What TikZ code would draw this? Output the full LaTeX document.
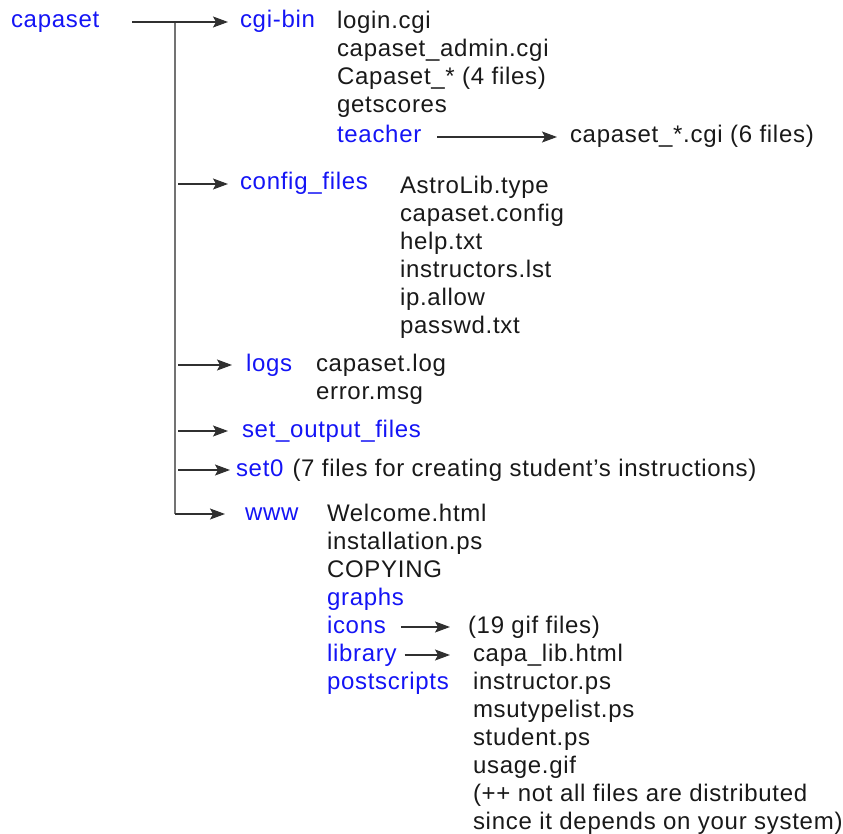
\documentclass[tikz,border=0pt]{standalone}
\usepackage{fontspec}
\setmainfont{Liberation Sans}[LetterSpace=3]
\usetikzlibrary{arrows.meta,positioning}
\definecolor{dirblue}{RGB}{20,20,245}
\definecolor{ink}{RGB}{25,25,25}

\begin{document}
\begin{tikzpicture}[x=1pt, y=-1pt,
        every node/.style={inner sep=0pt, outer sep=0pt, font=\fontsize{24}{28}\selectfont},
        dir/.style={text=dirblue, anchor=base west, text height=17pt, text depth=5pt},
        note/.style={text=ink, anchor=base west, text height=17pt, text depth=5pt},
        files/.style={text=ink, align=left, anchor=north west},
        arr/.style={-{Stealth[length=15pt,width=11pt,inset=3pt]}, line width=1.2pt, draw=ink!90},
        trunk/.style={line width=1.4pt, draw=black!55}]

    \useasboundingbox (0,-2) rectangle (843,832);

    % directories
    \node[dir] (capaset) at (11,26) {capaset};
    \node[dir] (cgibin) at (240,26) {cgi-bin};
    \node[dir] (teacher) at (337,141) {teacher};
    \node[dir] (config) at (240,188) {config\_files};
    \node[dir] (logs) at (246,369) {logs};
    \node[dir] (setout) at (242,435) {set\_output\_files};
    \node[dir] (set0) at (236,474) {set0};
    \node[dir] (www) at (245,518) {www};
    \foreach \name [count=\i] in {graphs,icons,library,postscripts}
        \node[dir] (\name) at (327,{519+28*(\i+2)}) {\name};

    % files
    \node[files] (cgifiles) at (337,9) {login.cgi\\capaset\_admin.cgi\\Capaset\_* (4 files)\\getscores};
    \node[note] (teachfiles) at (570,141) {capaset\_*.cgi (6 files)};
    \node[files] (configfiles) at (400,174) {AstroLib.type\\capaset.config\\help.txt\\instructors.lst\\ip.allow\\passwd.txt};
    \node[files] (logfiles) at (316,352) {capaset.log\\error.msg};
    \node[note, right=9pt of set0.base east, anchor=base west] (set0note) {(7 files for creating student’s instructions)};
    \node[files] (wwwfiles) at (327,502) {Welcome.html\\installation.ps\\COPYING};
    \node[note] (giffiles) at (468,631) {(19 gif files)};
    \node[files] (libfiles) at (473,642) {capa\_lib.html\\instructor.ps\\msutypelist.ps\\student.ps\\usage.gif\\(++ not all files are distributed\\since it depends on your system)};

    % connectors
    \coordinate (top) at (175,20);
    \coordinate (bottom) at (175,512);
    \draw[trunk] (top) -- (bottom);
    \draw[arr] ([xshift=33pt]capaset.east) -- ([xshift=-12pt]cgibin.west);
    \foreach \d/\g in {config/12, logs/14, setout/14, set0/6}
        \draw[arr] ([xshift=3pt]top |- \d.west) -- ([xshift=-\g pt]\d.west);
    \draw[arr] (bottom) -- ([xshift=-20pt]www.west);
    \draw[arr] ([xshift=16pt]teacher.east) -- ([xshift=-13pt]teachfiles.west);
    \draw[arr] ([xshift=15pt]icons.east) -- ([xshift=-18pt]giffiles.west);
    \draw[arr] ([xshift=8pt]library.east) -- ([xshift=-23pt]libfiles.west |- library.east);
\end{tikzpicture}
\end{document}
